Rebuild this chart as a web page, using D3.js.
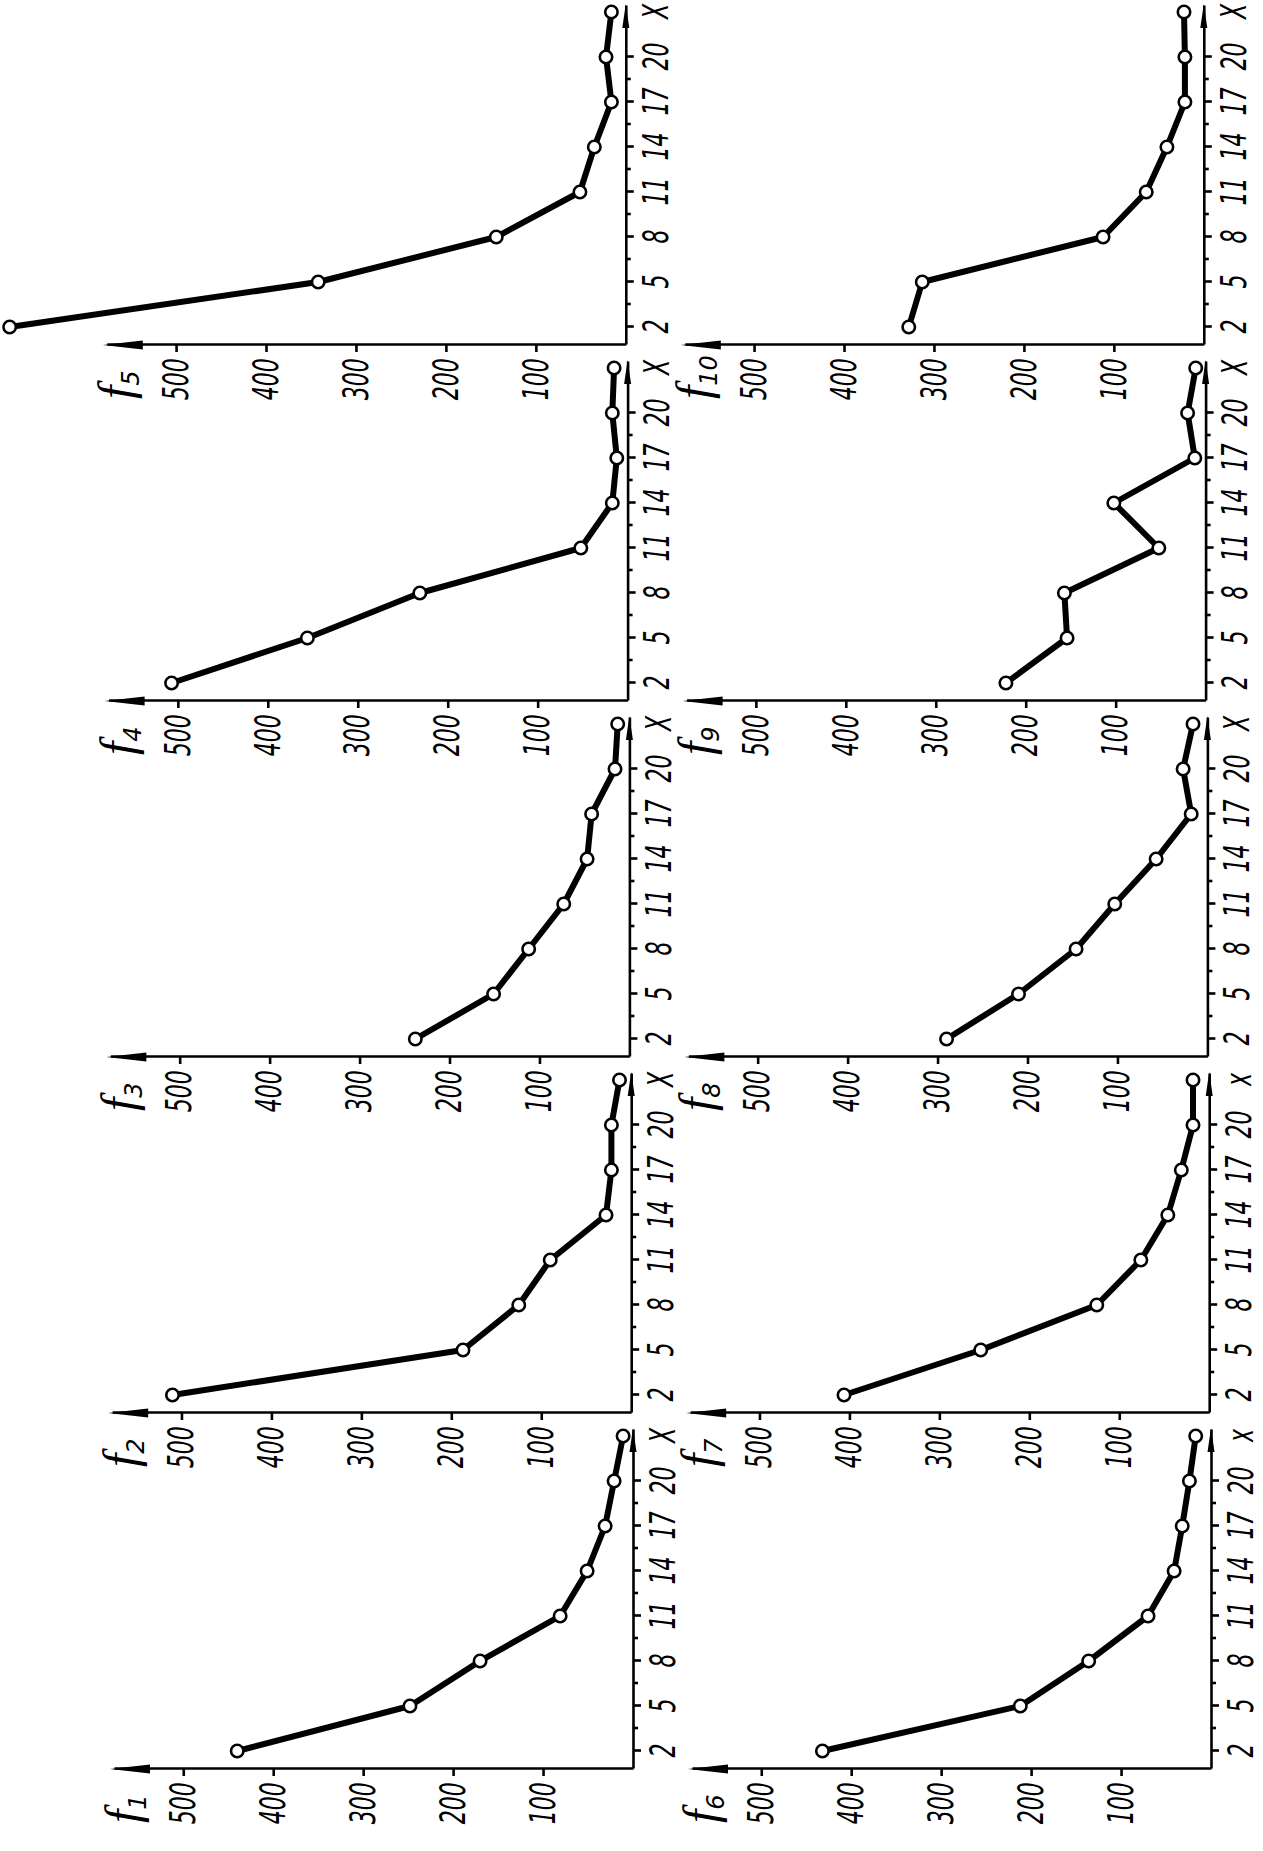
<!DOCTYPE html>
<html>
<head>
<meta charset="UTF-8">
<script src="https://cdn.jsdelivr.net/npm/d3@7/dist/d3.min.js"></script>
<style>
body{
    margin:0;
    background:#fff;
}
.tick text, .flabel{
    font-family:"DejaVu Sans",sans-serif;
    font-style:oblique;
}
</style>
</head>
<body>
<script>

// x positions of the points (the last one sits under the "X" label)
var xs = [2, 5, 8, 11, 14, 17, 20, 23];
var xTicks = [2, 5, 8, 11, 14, 17, 20];
var xMinor = [3.5, 6.5, 9.5, 12.5, 15.5, 18.5];
var yTicks = [100, 200, 300, 400, 500];
var names = ["1", "2", "3", "4", "5", "6", "7", "8", "9", "10"];
var xNames = ["X", "X", "X", "X", "X", "x", "x", "X", "X", "X"];

var f1 = [440, 248, 170, 81, 51, 31, 21, 11];
var f2 = [510, 187, 125, 90, 28, 22, 22, 13];
var f3 = [238, 151, 112, 73, 47, 42, 16, 13];
var f4 = [507, 356, 231, 52, 17, 12, 17, 15];
var f5 = [685, 342, 144, 51, 35, 16, 22, 16];
var f6 = [432, 212, 136, 70, 41, 32, 24, 17];
var f7 = [406, 254, 125, 76, 46, 31, 18, 18];
var f8 = [290, 210, 146, 103, 57, 18, 27, 16];
var f9 = [222, 154, 157, 52, 102, 12, 20, 11];
var f10 = [328, 313, 112, 64, 41, 21, 21, 22];
var series = [f1, f2, f3, f4, f5, f6, f7, f8, f9, f10];

var width = 1263, height = 1851;

var svg = d3.select("body").append("svg")
    .attr("width", width)
    .attr("height", height);

// the page is the chart turned a quarter turn, so draw it flat and rotate
var g = svg.append("g")
    .attr("transform", "translate(0," + height + ") rotate(-90)");

var rowZero = [633, 1211];
var squeeze = 0.63;   // lettering on the sheet is tall and narrow

series.forEach(function(vals, i){
    var r = Math.floor(i / 5), c = i % 5;
    var ox = 82 + 356 * c;
    var zero = rowZero[r] - 1.8 * c;

    var x = d3.scaleLinear().domain([0.8, 23.4]).range([ox, ox + 339]);
    var y = d3.scaleLinear().domain([0, 577]).range([zero, zero - 519]);

    var p = g.append("g").attr("class", "panel");

    var xAxis = d3.axisBottom(x)
        .tickValues(xTicks.concat([23]))
        .tickFormat(function(d){ return d === 23 ? xNames[i] : d; })
        .tickSize(8)
        .tickSizeOuter(0)
        .tickPadding(9);

    var gx = p.append("g")
        .attr("transform", "translate(0," + zero + ")")
        .call(xAxis);
    gx.selectAll("line").filter(function(d){ return d === 23; }).remove();

    var gm = p.append("g")
        .attr("transform", "translate(0," + zero + ")")
        .call(d3.axisBottom(x).tickValues(xMinor).tickSize(5).tickFormat(""));
    gm.select(".domain").remove();

    var yAxis = d3.axisLeft(y)
        .tickValues(yTicks)
        .tickSize(7)
        .tickSizeOuter(0)
        .tickPadding(14);

    var gy = p.append("g")
        .attr("transform", "translate(" + ox + ",0)")
        .call(yAxis);

    [gx, gy, gm].forEach(function(a){
        a.attr("font-size", null).attr("font-family", null);
        a.selectAll(".domain").attr("stroke", "#000").attr("stroke-width", 2.6);
        a.selectAll("line").attr("stroke", "#000").attr("stroke-width", 2.6);
        a.selectAll("text")
            .attr("font-size", 35)
            .attr("fill", "#000")
            .attr("transform", "scale(" + squeeze + ",1)");
    });

    // arrow heads
    var tipY = y.range()[1], tipX = x.range()[1];
    p.append("path")
        .attr("d", "M" + ox + "," + (tipY - 4) + "L" + (ox - 4.5) + "," + (tipY + 36) +
                   "L" + (ox + 4.5) + "," + (tipY + 36) + "Z")
        .attr("fill", "#000");
    p.append("path")
        .attr("d", "M" + (tipX + 2) + "," + zero + "L" + (tipX - 22) + "," + (zero - 3.5) +
                   "L" + (tipX - 22) + "," + (zero + 3.5) + "Z")
        .attr("fill", "#000");

    // f label
    var lab = p.append("text")
        .attr("class", "flabel")
        .attr("x", ox - 54)
        .attr("y", tipY + 25)
        .attr("fill", "#000");
    lab.append("tspan")
        .attr("font-family", "Liberation Serif, DejaVu Serif, serif")
        .attr("font-style", "italic")
        .attr("font-size", 48)
        .text("f");
    lab.append("tspan")
        .attr("font-size", 24)
        .attr("dy", 7)
        .text(names[i]);

    var pts = xs.map(function(d, k){ return [d, vals[k]]; });

    p.append("path")
        .datum(pts)
        .attr("fill", "none")
        .attr("stroke", "#000")
        .attr("stroke-width", 6)
        .attr("stroke-linejoin", "round")
        .attr("d", d3.line().x(function(d){ return x(d[0]); }).y(function(d){ return y(d[1]); }));

    p.selectAll(".pt")
        .data(pts)
        .enter().append("circle")
        .attr("cx", function(d){ return x(d[0]); })
        .attr("cy", function(d){ return y(d[1]); })
        .attr("r", 6.2)
        .attr("fill", "#fff")
        .attr("stroke", "#000")
        .attr("stroke-width", 2.6);
});

</script>
</body>
</html>
